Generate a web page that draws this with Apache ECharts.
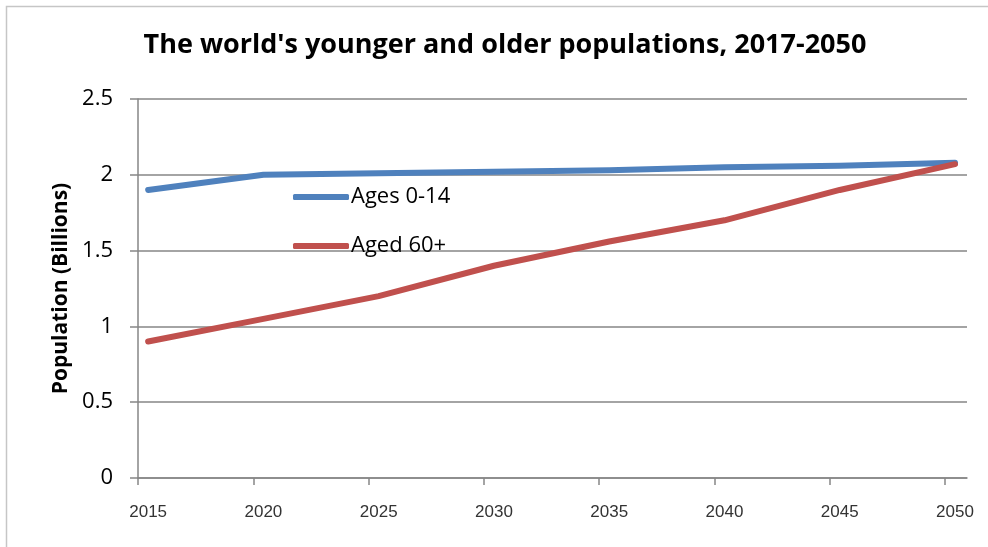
<!DOCTYPE html>
<html>
<head>
<meta charset="utf-8">
<script src="https://cdn.jsdelivr.net/npm/echarts@6/dist/echarts.min.js"></script>
<style>
  html, body { margin: 0; padding: 0; background: #fff; }
  #chart { width: 988px; height: 547px; }
</style>
</head>
<body>
<div id="chart"></div>
<script>
// Population by age group, in billions
const years = [2015, 2020, 2025, 2030, 2035, 2040, 2045, 2050];
const ages0to14 = [1.90, 2.00, 2.01, 2.02, 2.03, 2.05, 2.06, 2.08];
const aged60plus = [0.90, 1.05, 1.20, 1.40, 1.56, 1.70, 1.90, 2.07];
const yTicks = [0, 0.5, 1, 1.5, 2, 2.5];

const seriesNames = ['Ages 0-14', 'Aged 60+'];
const colors = ['#4F81BD', '#C0504D'];

// Tick marks sit a little before each labelled year
const tickShift = 0.44;
const xMin = years[0] - tickShift;
const xMax = years[years.length - 1] + 0.52;
const xTickValues = years.map(y => y - tickShift);

const chart = echarts.init(document.getElementById('chart'));
chart.setOption({
  animation: false,
  backgroundColor: '#fff',
  title: {
    text: "The world's younger and older populations, 2017-2050",
    left: 500,
    textAlign: 'center',
    top: 27,
    textStyle: { fontFamily: 'Open Sans', fontWeight: 'bold', fontSize: 27, color: '#000' }
  },
  grid: { left: 138, right: 21, top: 99, bottom: 69 },
  legend: {
    orient: 'vertical',
    left: 288,
    top: 181,
    itemGap: 27,
    itemWidth: 56,
    itemHeight: 6,
    icon: 'roundRect',
    data: seriesNames,
    textStyle: { fontFamily: 'Open Sans', fontSize: 22, color: '#000', padding: [0, 0, 0, -3] }
  },
  xAxis: {
    type: 'value',
    min: xMin,
    max: xMax,
    splitLine: { show: false },
    axisLine: { lineStyle: { color: '#868686', width: 1.5 } },
    axisTick: { show: true, length: 7, customValues: xTickValues, lineStyle: { color: '#868686', width: 1.5 } },
    axisLabel: {
      customValues: years,
      margin: 26,
      fontFamily: 'Liberation Sans',
      fontSize: 17,
      color: '#333',
      formatter: v => String(v)
    }
  },
  yAxis: {
    type: 'value',
    min: 0,
    max: 2.5,
    interval: 0.5,
    name: 'Population (Billions)',
    nameLocation: 'middle',
    nameGap: 66,
    nameTextStyle: { fontFamily: 'Open Sans', fontWeight: 'bold', fontSize: 21, color: '#000' },
    axisLine: { show: true, lineStyle: { color: '#868686', width: 1.5 } },
    axisTick: { show: true, inside: false, length: 8, lineStyle: { color: '#868686', width: 1.5 } },
    splitLine: { lineStyle: { color: '#868686', width: 1.5 } },
    axisLabel: {
      customValues: yTicks,
      margin: 25,
      fontFamily: 'Open Sans',
      fontSize: 22,
      color: '#000',
      formatter: v => String(v)
    }
  },
  series: [
    {
      name: seriesNames[0],
      type: 'line',
      data: years.map((y, i) => [y, ages0to14[i]]),
      showSymbol: false,
      symbol: 'none',
      lineStyle: { color: colors[0], width: 6, cap: 'round', join: 'round' },
      itemStyle: { color: colors[0] }
    },
    {
      name: seriesNames[1],
      type: 'line',
      data: years.map((y, i) => [y, aged60plus[i]]),
      showSymbol: false,
      symbol: 'none',
      lineStyle: { color: colors[1], width: 6, cap: 'round', join: 'round' },
      itemStyle: { color: colors[1] }
    }
  ],
  graphic: [
    {
      type: 'polyline',
      silent: true,
      shape: { points: [[6.5, 547], [6.5, 6.5], [988, 6.5]] },
      style: { stroke: '#c6c6c6', lineWidth: 1.5, fill: null }
    }
  ]
});
</script>
</body>
</html>
